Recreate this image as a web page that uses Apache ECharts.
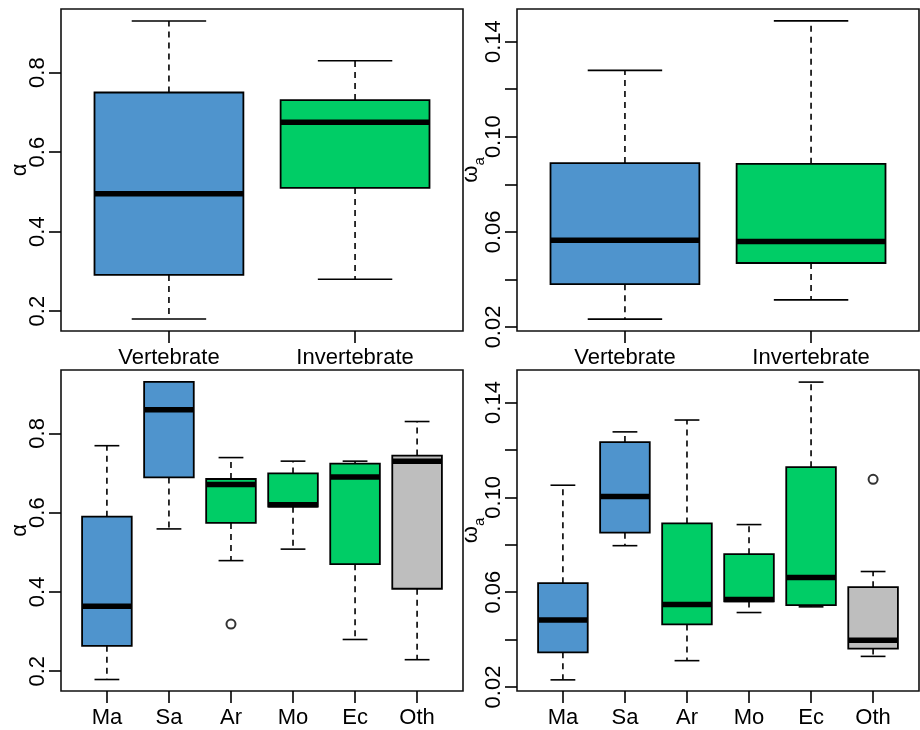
<!DOCTYPE html>
<html>
<head>
<meta charset="utf-8">
<title>alpha / omega_a boxplots</title>
<script src="https://cdn.jsdelivr.net/npm/echarts@6/dist/echarts.min.js"></script>
<style>
    html, body { margin: 0; padding: 0; background: #fff; }
    #chart { width: 920px; height: 730px; }
</style>
</head>
<body>
<div id="chart"></div>
<script>
// box stats: [lower whisker, Q1, median, Q3, upper whisker]
const groups = ['Vertebrate', 'Invertebrate'];
const alphaByGroup = [
    [0.18, 0.291, 0.495, 0.75, 0.93],
    [0.28, 0.51, 0.675, 0.731, 0.83],
];
const omegaByGroup = [
    [0.0233, 0.038, 0.0565, 0.0889, 0.1279],
    [0.0314, 0.0469, 0.0559, 0.0886, 0.1487],
];

const taxa = ['Ma', 'Sa', 'Ar', 'Mo', 'Ec', 'Oth'];
const taxonGroup = ['Vertebrate', 'Vertebrate', 'Invertebrate', 'Invertebrate', 'Invertebrate', 'Other'];
const alphaByTaxon = [
    [0.179, 0.264, 0.364, 0.59, 0.769],
    [0.559, 0.689, 0.86, 0.93, 0.93],
    [0.479, 0.574, 0.671, 0.685, 0.739],
    [0.508, 0.615, 0.62, 0.699, 0.73],
    [0.28, 0.47, 0.69, 0.724, 0.73],
    [0.229, 0.408, 0.73, 0.744, 0.83],
];
const omegaByTaxon = [
    [0.023, 0.0346, 0.0482, 0.0638, 0.1051],
    [0.0796, 0.0851, 0.1003, 0.1233, 0.1276],
    [0.0311, 0.0464, 0.0548, 0.089, 0.1326],
    [0.0514, 0.0561, 0.0569, 0.076, 0.0885],
    [0.0538, 0.0545, 0.0662, 0.1127, 0.1486],
    [0.0329, 0.0362, 0.0397, 0.0621, 0.0687],
];
// outliers: [taxon index, value]
const alphaOutliers = [[2, 0.319]];
const omegaOutliers = [[5, 0.1076]];

// axes
const alphaRange = [0.15, 0.96];
const omegaRange = [0.0183, 0.1537];
const alphaTicks = [0.2, 0.4, 0.6, 0.8];
const omegaTicks = [0.02, 0.04, 0.06, 0.08, 0.1, 0.12, 0.14];
const omegaTickLabels = [0.02, 0.06, 0.1, 0.14];

const groupColor = { Vertebrate: '#4F94CD', Invertebrate: '#00CD66', Other: '#BEBEBE' };
const FONT = '"Liberation Sans", Arial, sans-serif';
const INK = '#000';

function boxSeries(gridIndex, stats, colors) {
    return {
        type: 'custom',
        xAxisIndex: gridIndex,
        yAxisIndex: gridIndex,
        data: stats.map((s, i) => [i + 1].concat(s)),
        renderItem(params, api) {
            const x = api.value(0);
            const y = (k) => api.coord([x, api.value(k)])[1];
            const cx = api.coord([x, api.value(3)])[0];
            const half = api.size([0.4, 0])[0];
            const cap = half / 2;
            const yLo = y(1), yQ1 = y(2), yMed = y(3), yQ3 = y(4), yHi = y(5);
            const thin = { stroke: INK, lineWidth: 1.6 };
            const dash = { stroke: INK, lineWidth: 1.6, lineDash: [6, 5] };
            return {
                type: 'group',
                children: [
                    { type: 'line', shape: { x1: cx, y1: yQ1, x2: cx, y2: yLo }, style: dash },
                    { type: 'line', shape: { x1: cx, y1: yQ3, x2: cx, y2: yHi }, style: dash },
                    { type: 'line', shape: { x1: cx - cap, y1: yLo, x2: cx + cap, y2: yLo }, style: thin },
                    { type: 'line', shape: { x1: cx - cap, y1: yHi, x2: cx + cap, y2: yHi }, style: thin },
                    {
                        type: 'rect',
                        shape: { x: cx - half, y: yQ3, width: half * 2, height: yQ1 - yQ3 },
                        style: { fill: colors[params.dataIndex], stroke: INK, lineWidth: 1.8 },
                    },
                    {
                        type: 'line',
                        shape: { x1: cx - half, y1: yMed, x2: cx + half, y2: yMed },
                        style: { stroke: INK, lineWidth: 5.5 },
                    },
                ],
            };
        },
    };
}

function outlierSeries(gridIndex, points) {
    return {
        type: 'scatter',
        xAxisIndex: gridIndex,
        yAxisIndex: gridIndex,
        symbol: 'emptyCircle',
        symbolSize: 9,
        itemStyle: { color: INK, borderWidth: 1.5 },
        data: points.map((p) => [p[0] + 1, p[1]]),
    };
}

function xAxisFor(gridIndex, names) {
    const n = names.length;
    const pad = 0.5 + n * 0.04;
    const pos = names.map((_, i) => i + 1);
    return {
        type: 'value',
        gridIndex,
        min: 1 - pad,
        max: n + pad,
        splitLine: { show: false },
        axisLine: { show: false },
        axisTick: { show: true, length: 12, customValues: pos, lineStyle: { color: INK, width: 1.6 } },
        axisLabel: {
            customValues: pos,
            margin: 16,
            fontSize: 22,
            fontFamily: FONT,
            color: INK,
            formatter: (v) => names[Math.round(v) - 1],
        },
    };
}

function yAxisFor(gridIndex, range, ticks, labels, decimals, name, rich) {
    return {
        type: 'value',
        gridIndex,
        min: range[0],
        max: range[1],
        splitLine: { show: false },
        axisLine: { show: false },
        axisTick: { show: true, length: 12, customValues: ticks, lineStyle: { color: INK, width: 1.6 } },
        axisLabel: {
            customValues: labels,
            rotate: 90,
            margin: 12,
            fontSize: 22,
            fontFamily: FONT,
            color: INK,
            formatter: (v) => v.toFixed(decimals),
        },
        name,
        nameLocation: 'middle',
        nameRotate: 90,
        nameGap: 30,
        nameMoveOverlap: false,
        nameTextStyle: { fontSize: 22, fontFamily: FONT, color: INK, rich },
    };
}

const omegaName = '{w|ω}{s|a}';
const omegaRich = {
    w: { fontSize: 22, fontFamily: FONT, color: INK, verticalAlign: 'bottom', padding: [0, 0, 5, 0] },
    s: { fontSize: 15, fontFamily: FONT, color: INK, verticalAlign: 'bottom' },
};

const taxonColors = taxonGroup.map((g) => groupColor[g]);
const groupColors = groups.map((g) => groupColor[g]);

const frame = { show: true, borderColor: '#111', borderWidth: 1.6, backgroundColor: 'transparent' };

const chart = echarts.init(document.getElementById('chart'), null, { renderer: 'canvas' });
chart.setOption({
    animation: false,
    backgroundColor: '#fff',
    grid: [
        Object.assign({ left: 61, top: 9, width: 402, height: 322, outerBoundsMode: 'none' }, frame),
        Object.assign({ left: 517, top: 9, width: 402, height: 322, outerBoundsMode: 'none' }, frame),
        Object.assign({ left: 61, top: 370, width: 402, height: 321, outerBoundsMode: 'none' }, frame),
        Object.assign({ left: 517, top: 370, width: 402, height: 321, outerBoundsMode: 'none' }, frame),
    ],
    xAxis: [
        xAxisFor(0, groups),
        xAxisFor(1, groups),
        xAxisFor(2, taxa),
        xAxisFor(3, taxa),
    ],
    yAxis: [
        yAxisFor(0, alphaRange, alphaTicks, alphaTicks, 1, 'α'),
        yAxisFor(1, omegaRange, omegaTicks, omegaTickLabels, 2, omegaName, omegaRich),
        yAxisFor(2, alphaRange, alphaTicks, alphaTicks, 1, 'α'),
        yAxisFor(3, omegaRange, omegaTicks, omegaTickLabels, 2, omegaName, omegaRich),
    ],
    series: [
        boxSeries(0, alphaByGroup, groupColors),
        boxSeries(1, omegaByGroup, groupColors),
        boxSeries(2, alphaByTaxon, taxonColors),
        boxSeries(3, omegaByTaxon, taxonColors),
        outlierSeries(2, alphaOutliers),
        outlierSeries(3, omegaOutliers),
    ],
});
</script>
</body>
</html>
